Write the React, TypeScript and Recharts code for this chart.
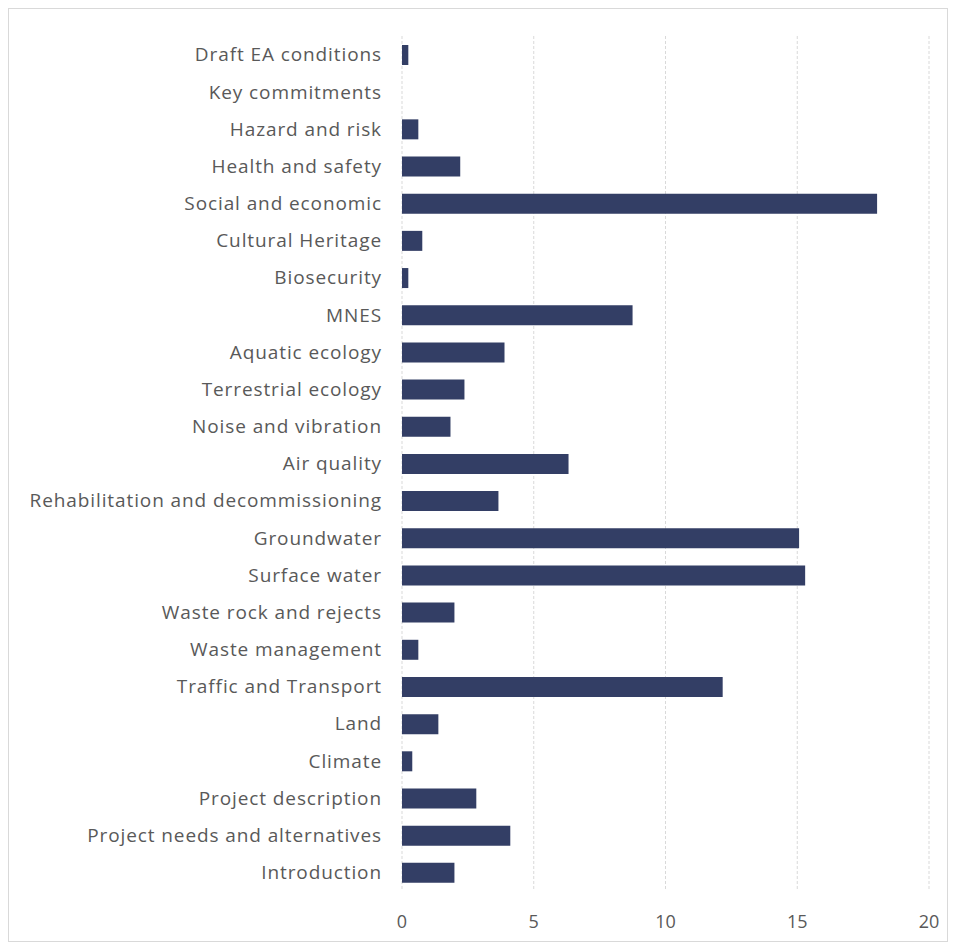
import { BarChart, Bar, XAxis, YAxis, CartesianGrid } from 'recharts'

const categories = [
  'Draft EA conditions',
  'Key commitments',
  'Hazard and risk',
  'Health and safety',
  'Social and economic',
  'Cultural Heritage',
  'Biosecurity',
  'MNES',
  'Aquatic ecology',
  'Terrestrial ecology',
  'Noise and vibration',
  'Air quality',
  'Rehabilitation and decommissioning',
  'Groundwater',
  'Surface water',
  'Waste rock and rejects',
  'Waste management',
  'Traffic and Transport',
  'Land',
  'Climate',
  'Project description',
  'Project needs and alternatives',
  'Introduction',
]

const counts = [
  0.24, 0, 0.62, 2.21, 18.03, 0.77, 0.24, 8.75, 3.89, 2.37, 1.84, 6.32, 3.66,
  15.07, 15.3, 1.99, 0.62, 12.17, 1.38, 0.39, 2.82, 4.11, 1.99,
]

const xTicks = [0, 5, 10, 15, 20]

const data = categories.map((name, i) => ({ name, value: counts[i] }))

const catStyle = { fill: '#595959', fontSize: 19, letterSpacing: 0.9, fontFamily: 'Open Sans' }
const numStyle = { fill: '#595959', fontSize: 18, fontFamily: 'Open Sans' }

export default function App() {
  return (
    <div style={{ width: 938, height: 932, border: '1px solid #d9d9d9', background: '#fff' }}>
      <BarChart
        width={938}
        height={932}
        data={data}
        layout="vertical"
        margin={{ top: 27, right: 18, left: 0, bottom: 20 }}
      >
        <CartesianGrid horizontal={false} stroke="#d9d9d9" strokeDasharray="3 2" />
        <XAxis
          type="number"
          domain={[0, 20]}
          ticks={xTicks}
          axisLine={false}
          tickLine={false}
          tickSize={0}
          tickMargin={24}
          height={30}
          tick={numStyle}
        />
        <YAxis
          type="category"
          dataKey="name"
          width={393}
          interval={0}
          axisLine={false}
          tickLine={false}
          tickSize={0}
          tickMargin={20}
          tick={catStyle}
        />
        <Bar dataKey="value" fill="#333e65" barSize={20} isAnimationActive={false} />
      </BarChart>
    </div>
  )
}
